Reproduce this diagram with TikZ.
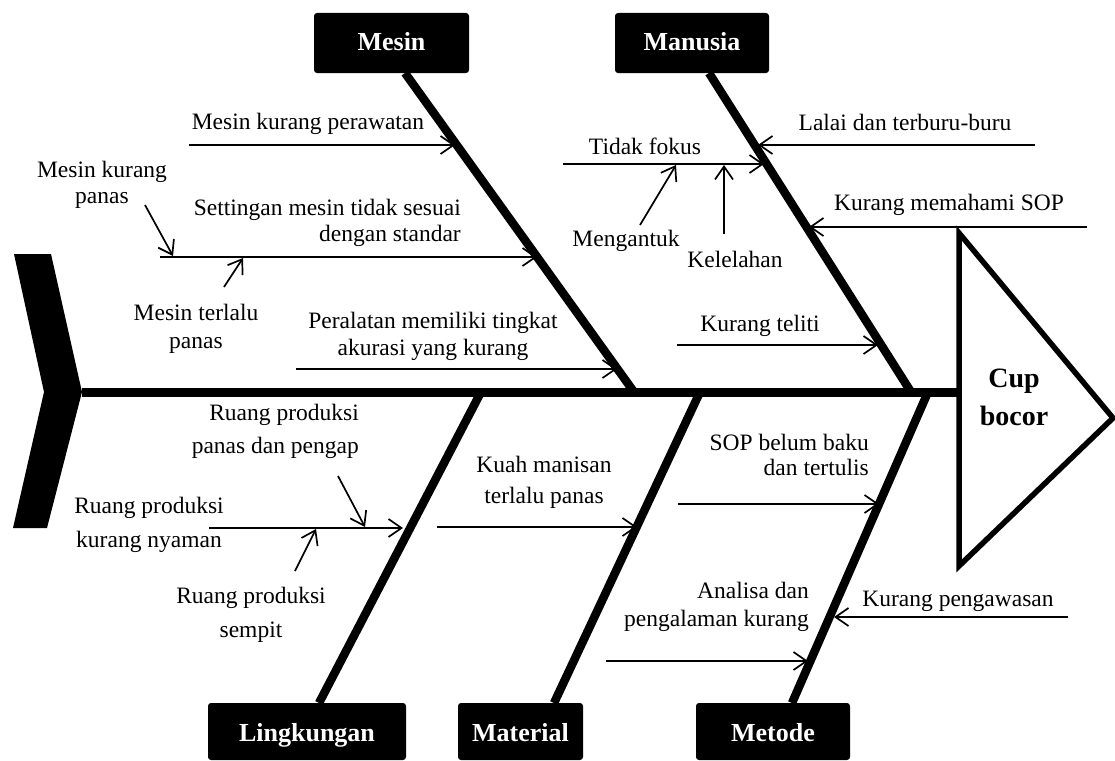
\documentclass[tikz,border=0pt]{standalone}
\usepackage{fontspec}
\setmainfont{Liberation Serif}
\usetikzlibrary{arrows.meta,calc}
\begin{document}
\begin{tikzpicture}[x=1pt,y=-1pt,
  catbox/.style={fill=black, rounded corners=3pt, text=white, inner sep=0pt,
    text height=18pt, text depth=2pt,
    font=\fontsize{26}{30}\selectfont\bfseries},
  catlow/.style={catbox, text height=20pt, text depth=0pt},
  bone/.style={line width=8.5pt, line cap=butt},
  sub/.style={line width=1.7pt, -{Straight Barb[length=13pt,width=18pt]}},
  lbl/.style={inner sep=0pt, align=center, font=\fontsize{23.5}{27}\selectfont},
  one/.style={text height=18.5pt, text depth=2.5pt},
  ls/.style={font=\fontsize{23.5}{#1}\selectfont}
]
\useasboundingbox (0,0) rectangle (1115,760);

% ---- category boxes
\node[catbox, minimum width=155pt, minimum height=60pt] (mesin) at (391.5,43) {Mesin};
\node[catbox, minimum width=154pt, minimum height=60pt] (manusia) at (692,43) {Manusia};
\node[catlow, minimum width=198pt, minimum height=57pt] (lingk) at (307,731.5) {Lingkungan};
\node[catlow, minimum width=125pt, minimum height=57pt] (material) at (520.5,731.5) {Material};
\node[catlow, minimum width=154pt, minimum height=57pt] (metode) at (773,731.5) {Metode};

% ---- tail and head
\fill (14,254) -- (51,254) -- (82,392) -- (47,528) -- (13,528) -- (44,392) -- cycle;
\coordinate (tailR) at (82,392);
\coordinate (headL) at (959,392);
\draw[line width=5.5pt, line join=miter] (959,233) -- (1113,418) -- (959,566) -- cycle;
\node[inner sep=0pt, align=center, font=\fontsize{28}{38}\selectfont\bfseries] (effect) at (1014,397) {Cup\\bocor};

% ---- spine
\draw[line width=9pt] (tailR) -- (headL);

% ---- bones
\coordinate (mesinTop) at (405,73);   \coordinate (mesinBot) at (634,392);
\coordinate (manTop) at (709,73);     \coordinate (manBot) at (911,392);
\coordinate (linTop) at (481,392);    \coordinate (linBot) at (319,703);
\coordinate (matTop) at (700,392);    \coordinate (matBot) at (554,703);
\coordinate (metTop) at (928,392);    \coordinate (metBot) at (792,703);
\draw[bone] (mesinTop) -- (mesinBot);
\draw[bone] (manTop) -- (manBot);
\draw[bone] (linTop) -- (linBot);
\draw[bone] (matTop) -- (matBot);
\draw[bone] (metTop) -- (metBot);

% ================= Mesin
\node[lbl, one] (m1) at (308,121) {Mesin kurang perawatan};
\coordinate (m1s) at (189,145); \coordinate (m1e) at (455,145);
\draw[sub] (m1s) -- (m1e);

\node[lbl, ls=26, align=right, anchor=east] (m2) at (461,222.5) {Settingan mesin tidak sesuai\\dengan standar};
\coordinate (m2s) at (160,257); \coordinate (m2e) at (537,257);
\draw[sub] (m2s) -- (m2e);

\node[lbl, ls=26] (m2a) at (102,185) {Mesin kurang\\panas};
\coordinate (m2as) at (145,205); \coordinate (m2ae) at (173,256);
\draw[sub] (m2as) -- (m2ae);

\node[lbl, ls=28] (m2b) at (196,329) {Mesin terlalu\\panas};
\coordinate (m2bs) at (224,287); \coordinate (m2be) at (243,258);
\draw[sub] (m2bs) -- (m2be);

\node[lbl, ls=27] (m3) at (433,336) {Peralatan memiliki tingkat\\akurasi yang kurang};
\coordinate (m3s) at (296,369); \coordinate (m3e) at (617,369);
\draw[sub] (m3s) -- (m3e);

% ================= Manusia
\node[lbl, one] (h1) at (905,122) {Lalai dan terburu-buru};
\coordinate (h1s) at (1035,145); \coordinate (h1e) at (758,145);
\draw[sub] (h1s) -- (h1e);

\node[lbl, one] (h2) at (645,146) {Tidak fokus};
\coordinate (h2s) at (563,164); \coordinate (h2e) at (764,164);
\draw[sub] (h2s) -- (h2e);

\node[lbl, one] (h2a) at (626,238) {Mengantuk};
\coordinate (h2as) at (640,225); \coordinate (h2ae) at (676,165);
\draw[sub] (h2as) -- (h2ae);

\node[lbl, one] (h2b) at (735,259) {Kelelahan};
\coordinate (h2bs) at (724,234); \coordinate (h2be) at (724,165);
\draw[sub] (h2bs) -- (h2be);

\node[lbl, one] (h3) at (949,202) {Kurang memahami SOP};
\coordinate (h3s) at (1087,227); \coordinate (h3e) at (809,227);
\draw[sub] (h3s) -- (h3e);

\node[lbl, one] (h4) at (760,323) {Kurang teliti};
\coordinate (h4s) at (677,345); \coordinate (h4e) at (878,345);
\draw[sub] (h4s) -- (h4e);

% ================= Lingkungan
\node[lbl, ls=34] (l1) at (149,525) {Ruang produksi\\kurang nyaman};
\coordinate (l1s) at (209,528); \coordinate (l1e) at (403,528);
\draw[sub] (l1s) -- (l1e);

\node[lbl, ls=33, align=right, anchor=east] (l1a) at (359,431.5) {Ruang produksi\\panas dan pengap};
\coordinate (l1as) at (338,476); \coordinate (l1ae) at (365,527);
\draw[sub] (l1as) -- (l1ae);

\node[lbl, ls=34] (l1b) at (251,615) {Ruang produksi\\sempit};
\coordinate (l1bs) at (295,571); \coordinate (l1be) at (316,529);
\draw[sub] (l1bs) -- (l1be);

% ================= Material
\node[lbl, ls=31] (t1) at (544,482) {Kuah manisan\\terlalu panas};
\coordinate (t1s) at (437,527); \coordinate (t1e) at (637,527);
\draw[sub] (t1s) -- (t1e);

% ================= Metode
\node[lbl, ls=25, align=right, anchor=east] (d1) at (869,454.5) {SOP belum baku\\dan tertulis};
\coordinate (d1s) at (678,504); \coordinate (d1e) at (879,504);
\draw[sub] (d1s) -- (d1e);

\node[lbl, ls=28, align=right, anchor=east] (d2) at (809,607) {Analisa dan\\pengalaman kurang};
\coordinate (d2s) at (606,661); \coordinate (d2e) at (808,661);
\draw[sub] (d2s) -- (d2e);

\node[lbl, one] (d3) at (958,598) {Kurang pengawasan};
\coordinate (d3s) at (1068,617); \coordinate (d3e) at (834,617);
\draw[sub] (d3s) -- (d3e);
\end{tikzpicture}
\end{document}
